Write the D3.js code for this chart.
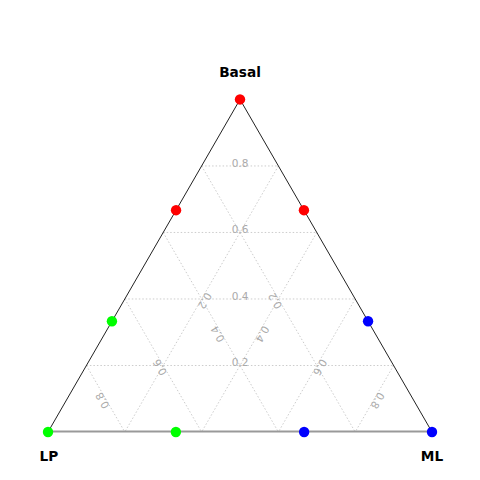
<!DOCTYPE html>
<html>
<head>
<meta charset="utf-8">
<script src="https://cdn.jsdelivr.net/npm/d3@7"></script>
<style>
  html, body { margin: 0; padding: 0; background: #fff; }
  svg { display: block; }
</style>
</head>
<body>
<svg id="chart" width="480" height="480"></svg>
<script>
// ---- data ----
const axisNames = ["Basal", "LP", "ML"];
const ticks = [0.2, 0.4, 0.6, 0.8];
const tickLabels = ["0.2", "0.4", "0.6", "0.8"];
const pointGroup = ["Basal", "Basal", "Basal", "LP", "LP", "LP", "ML", "ML", "ML"];
const pointBasal = [1, 0.667, 0.667, 0.333, 0, 0, 0.333, 0, 0];
const pointLP    = [0, 0.333, 0, 0.667, 1, 0.667, 0, 0.333, 0];
const pointML    = [0, 0, 0.333, 0, 0, 0.333, 0.667, 0.667, 1];
const groupColors = ["#ff0000", "#00ff00", "#0000ff"];

// ---- layout ----
(function () {
const svg = d3.select("#chart");
const leftX = 48, rightX = 432, bottomY = 432;
const side = rightX - leftX;
const triH = side * Math.sqrt(3) / 2;
const xs = d3.scaleLinear().domain([0, 1]).range([leftX, rightX]);
const ys = d3.scaleLinear().domain([0, 1]).range([bottomY, bottomY - triH]);
const color = d3.scaleOrdinal().domain(axisNames).range(groupColors);

// barycentric (basal, lp, ml) -> pixel
function px(b, l, m) { return [xs(m + b / 2), ys(b)]; }

const g = svg.append("g");

// grid lines
const grid = g.append("g").attr("stroke", "#cccccc").attr("stroke-width", 1)
  .attr("stroke-dasharray", "1.5,2").attr("fill", "none");
ticks.forEach(t => {
  let a = px(t, 1 - t, 0), b = px(t, 0, 1 - t);
  grid.append("line").attr("x1", a[0]).attr("y1", a[1]).attr("x2", b[0]).attr("y2", b[1]);
  a = px(1 - t, t, 0); b = px(0, t, 1 - t);
  grid.append("line").attr("x1", a[0]).attr("y1", a[1]).attr("x2", b[0]).attr("y2", b[1]);
  a = px(1 - t, 0, t); b = px(0, 1 - t, t);
  grid.append("line").attr("x1", a[0]).attr("y1", a[1]).attr("x2", b[0]).attr("y2", b[1]);
});

// tick labels at midpoints of grid lines
const lab = g.append("g").attr("fill", "#aaaaaa")
  .attr("font-family", "DejaVu Sans, sans-serif").attr("font-size", "10.5px")
  .attr("text-anchor", "middle");
ticks.forEach((t, i) => {
  let p = px(t, (1 - t) / 2, (1 - t) / 2);
  lab.append("text").attr("x", p[0]).attr("y", p[1] + 1).text(tickLabels[i]);
  p = px((1 - t) / 2, t, (1 - t) / 2);
  lab.append("text").attr("transform", `translate(${p[0]},${p[1]}) rotate(-120)`).text(tickLabels[i]);
  p = px((1 - t) / 2, (1 - t) / 2, t);
  lab.append("text").attr("transform", `translate(${p[0]},${p[1]}) rotate(120)`).text(tickLabels[i]);
});

// edges
const vTop = px(1, 0, 0), vLP = px(0, 1, 0), vML = px(0, 0, 1);
g.append("line").attr("x1", vLP[0]).attr("y1", vLP[1]).attr("x2", vTop[0]).attr("y2", vTop[1])
  .attr("stroke", "#222").attr("stroke-width", 1);
g.append("line").attr("x1", vTop[0]).attr("y1", vTop[1]).attr("x2", vML[0]).attr("y2", vML[1])
  .attr("stroke", "#222").attr("stroke-width", 1);
g.append("line").attr("x1", vLP[0]).attr("y1", vLP[1] - 0.5).attr("x2", vML[0]).attr("y2", vML[1] - 0.5)
  .attr("stroke", "#999").attr("stroke-width", 2);

// vertex titles
const titles = g.append("g").attr("font-family", "DejaVu Sans, sans-serif")
  .attr("font-weight", "bold").attr("font-size", "13.7px").attr("text-anchor", "middle").attr("fill", "#000");
titles.append("text").attr("x", vTop[0]).attr("y", vTop[1] - 22).text(axisNames[0]);
titles.append("text").attr("x", vLP[0] + 1).attr("y", vLP[1] + 29).text(axisNames[1]);
titles.append("text").attr("x", vML[0]).attr("y", vML[1] + 29).text(axisNames[2]);

// points
const pts = pointGroup.map((grp, i) => ({ grp, b: pointBasal[i], l: pointLP[i], m: pointML[i] }));
g.append("g").selectAll("circle").data(pts).join("circle")
  .attr("cx", d => px(d.b, d.l, d.m)[0])
  .attr("cy", d => px(d.b, d.l, d.m)[1])
  .attr("r", 5.2)
  .attr("fill", d => color(d.grp));
})();
</script>
</body>
</html>
